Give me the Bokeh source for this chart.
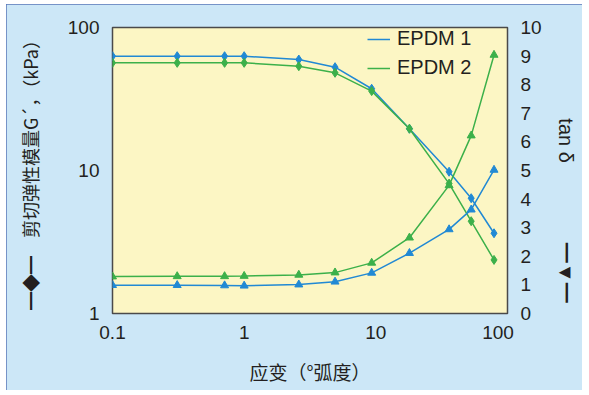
from bokeh.plotting import figure
from bokeh.models import (Range1d, LinearAxis, LinearScale, FixedTicker, Legend, LegendItem)
from bokeh.embed import file_html
from bokeh.resources import INLINE

# ---- data ----
strain = [0.1, 0.31, 0.71, 1.0, 2.6, 4.9, 9.3, 18, 36, 53, 79]
g_epdm1 = [63, 63, 63, 63, 59.7, 52.8, 37.3, 19.6, 9.8, 6.4, 3.64]
g_epdm2 = [56.6, 56.6, 56.6, 56.6, 53.6, 48.2, 35.9, 19.6, 8.1, 4.42, 2.37]
tan_epdm1 = [0.99, 0.99, 0.98, 0.97, 1.01, 1.11, 1.42, 2.11, 2.94, 3.63, 5.02]
tan_epdm2 = [1.29, 1.30, 1.30, 1.31, 1.35, 1.43, 1.77, 2.65, 4.48, 6.22, 9.04]
x_ticks = [0.1, 1, 10, 100]
x_tick_labels = ["0.1", "1", "10", "100\u2002\u2002"]
g_ticks = [1, 10, 100]
tan_ticks = [0, 1, 2, 3, 4, 5, 6, 7, 8, 9, 10]
series_names = ["EPDM 1", "EPDM 2"]
x_title = "应变（°弧度）"
g_title = "━◆━\u3000剪切弹性模量G´，（kPa）"
tan_title = "\u3000\u3000\u3000\u3000tan δ\u3000\u3000\u3000\u3000━▼━"

BLUE = "#2189D4"
GREEN = "#3CB04A"
TXT = "#231F20"
FRAME = "#5A77B9"
LAT = "Liberation Sans"
CJK = "Noto Sans CJK SC"

W, H = 576, 386
ML, MT, FW, FH = 106, 23, 395, 286

p = figure(width=W, height=H, x_axis_type="log", y_axis_type="log",
           x_range=Range1d(0.1, 100), y_range=Range1d(1, 100),
           output_backend="svg", toolbar_location=None,
           min_border_left=ML, min_border_right=W - ML - FW,
           min_border_top=MT, min_border_bottom=H - MT - FH)
p.margin = (4, 0, 0, 6)
p.styles = {"outline": f"5px solid {FRAME}", "outline-offset": "-5px"}
p.background_fill_color = "#FCF6C4"
p.border_fill_color = "#CCE7F7"
p.outline_line_color = "#4A4A4A"
p.outline_line_width = 1.5
p.grid.visible = False

p.extra_y_ranges = {"tan": Range1d(0, 10)}
p.extra_y_scales = {"tan": LinearScale()}
ax_r = LinearAxis(y_range_name="tan")
p.add_layout(ax_r, "right")

for ax in [p.xaxis[0], p.yaxis[0], ax_r]:
    ax.axis_line_color = None
    ax.major_tick_line_color = None
    ax.minor_tick_line_color = None
    ax.major_tick_out = 0
    ax.major_tick_in = 0
    ax.minor_tick_out = 0
    ax.major_label_text_font = LAT
    ax.major_label_text_font_size = "19px"
    ax.major_label_text_color = TXT
    ax.axis_label_text_font_style = "normal"
    ax.axis_label_text_color = TXT

xa = p.xaxis[0]
xa.ticker = FixedTicker(ticks=x_ticks)
xa.major_label_overrides = dict(zip(x_ticks, x_tick_labels))
xa.major_label_standoff = 8
xa.axis_label = x_title
xa.axis_label_text_font = CJK
xa.axis_label_text_font_size = "19px"
xa.axis_label_standoff = 12

ya = p.yaxis[0]
ya.ticker = FixedTicker(ticks=g_ticks)
ya.major_label_overrides = {t: f"{t:g}" for t in g_ticks}
ya.major_label_standoff = 13
ya.axis_label = g_title
ya.axis_label_text_font = CJK
ya.axis_label_text_font_size = "18px"
ya.axis_label_standoff = 22

ax_r.ticker = FixedTicker(ticks=tan_ticks)
ax_r.major_label_standoff = 13
ax_r.axis_label = tan_title
ax_r.axis_label_text_font = f"{LAT}, {CJK}"
ax_r.axis_label_text_font_size = "20px"
ax_r.axis_label_standoff = 10

# lines and markers
r1 = p.line(strain, g_epdm1, color=BLUE, line_width=1.5)
p.scatter(strain, g_epdm1, marker="diamond", size=9, color=BLUE)
r2 = p.line(strain, g_epdm2, color=GREEN, line_width=1.5)
p.scatter(strain, g_epdm2, marker="diamond", size=9, color=GREEN)
p.line(strain, tan_epdm1, color=BLUE, line_width=1.5, y_range_name="tan")
p.scatter(strain, tan_epdm1, marker="triangle", size=8, color=BLUE, y_range_name="tan")
p.line(strain, tan_epdm2, color=GREEN, line_width=1.5, y_range_name="tan")
p.scatter(strain, tan_epdm2, marker="triangle", size=8, color=GREEN, y_range_name="tan")

legend = Legend(items=[LegendItem(label=series_names[0], renderers=[r1]),
                       LegendItem(label=series_names[1], renderers=[r2])],
                location="top_right", margin=0, padding=2, spacing=6,
                glyph_width=23, glyph_height=20, label_height=20, label_width=110,
                label_standoff=7, background_fill_alpha=0, border_line_color=None,
                label_text_font=LAT, label_text_font_size="20px", label_text_color=TXT)
p.add_layout(legend)

open("out.html", "w").write(file_html(p, INLINE))
